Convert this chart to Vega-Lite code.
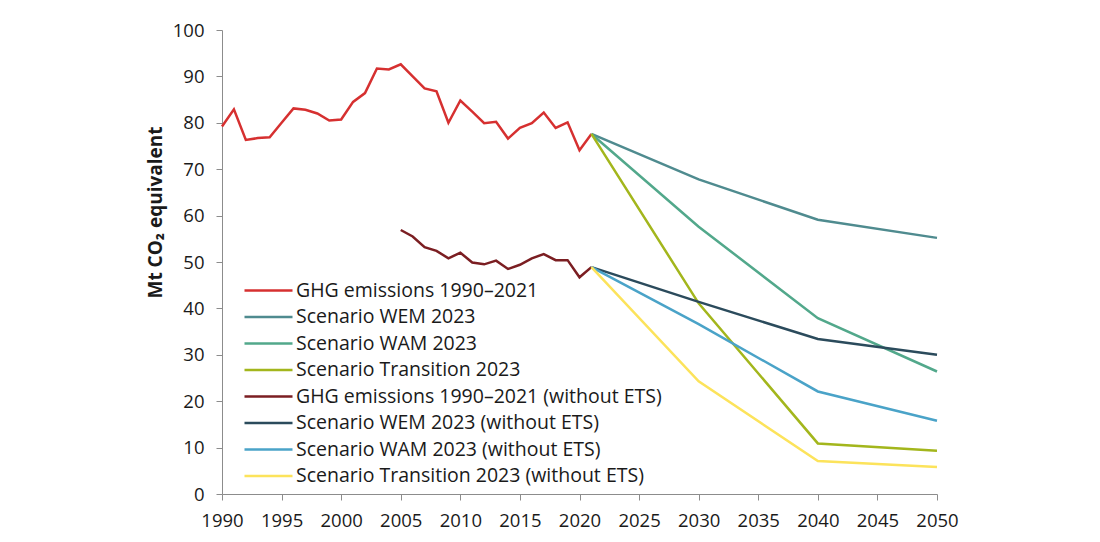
{
  "$schema": "https://vega.github.io/schema/vega-lite/v6.json",
  "width": 715,
  "height": 464,
  "autosize": {"type": "none"},
  "padding": {"left": 222, "top": 30, "right": 163, "bottom": 48},
  "background": "white",
  "config": {
    "view": {"stroke": null},
    "font": "Open Sans",
    "axis": {
      "labelFont": "Open Sans",
      "labelFontSize": 18.5,
      "labelColor": "#1a1a1a",
      "domainColor": "#8c8c8c",
      "tickColor": "#8c8c8c",
      "tickSize": 6,
      "grid": false,
      "titleFont": "Open Sans",
      "titleColor": "#1a1a1a"
    },
    "legend": {
      "labelFont": "Open Sans",
      "labelFontSize": 19.5,
      "labelColor": "#1a1a1a"
    }
  },
  "data": {
    "values": [
      {"series": "GHG emissions 1990–2021", "year": 1990, "value": 79.2},
      {"series": "GHG emissions 1990–2021", "year": 1991, "value": 82.9},
      {"series": "GHG emissions 1990–2021", "year": 1992, "value": 76.3},
      {"series": "GHG emissions 1990–2021", "year": 1993, "value": 76.7},
      {"series": "GHG emissions 1990–2021", "year": 1994, "value": 76.9},
      {"series": "GHG emissions 1990–2021", "year": 1995, "value": 80.0},
      {"series": "GHG emissions 1990–2021", "year": 1996, "value": 83.1},
      {"series": "GHG emissions 1990–2021", "year": 1997, "value": 82.8},
      {"series": "GHG emissions 1990–2021", "year": 1998, "value": 82.0},
      {"series": "GHG emissions 1990–2021", "year": 1999, "value": 80.5},
      {"series": "GHG emissions 1990–2021", "year": 2000, "value": 80.7},
      {"series": "GHG emissions 1990–2021", "year": 2001, "value": 84.5},
      {"series": "GHG emissions 1990–2021", "year": 2002, "value": 86.4},
      {"series": "GHG emissions 1990–2021", "year": 2003, "value": 91.7},
      {"series": "GHG emissions 1990–2021", "year": 2004, "value": 91.5},
      {"series": "GHG emissions 1990–2021", "year": 2005, "value": 92.6},
      {"series": "GHG emissions 1990–2021", "year": 2006, "value": 90.0},
      {"series": "GHG emissions 1990–2021", "year": 2007, "value": 87.4},
      {"series": "GHG emissions 1990–2021", "year": 2008, "value": 86.8},
      {"series": "GHG emissions 1990–2021", "year": 2009, "value": 80.0},
      {"series": "GHG emissions 1990–2021", "year": 2010, "value": 84.8},
      {"series": "GHG emissions 1990–2021", "year": 2011, "value": 82.4},
      {"series": "GHG emissions 1990–2021", "year": 2012, "value": 79.9},
      {"series": "GHG emissions 1990–2021", "year": 2013, "value": 80.2},
      {"series": "GHG emissions 1990–2021", "year": 2014, "value": 76.6},
      {"series": "GHG emissions 1990–2021", "year": 2015, "value": 78.9},
      {"series": "GHG emissions 1990–2021", "year": 2016, "value": 79.9},
      {"series": "GHG emissions 1990–2021", "year": 2017, "value": 82.2},
      {"series": "GHG emissions 1990–2021", "year": 2018, "value": 78.9},
      {"series": "GHG emissions 1990–2021", "year": 2019, "value": 80.1},
      {"series": "GHG emissions 1990–2021", "year": 2020, "value": 74.1},
      {"series": "GHG emissions 1990–2021", "year": 2021, "value": 77.6},

      {"series": "Scenario WEM 2023", "year": 2021, "value": 77.6},
      {"series": "Scenario WEM 2023", "year": 2030, "value": 67.8},
      {"series": "Scenario WEM 2023", "year": 2040, "value": 59.1},
      {"series": "Scenario WEM 2023", "year": 2050, "value": 55.2},

      {"series": "Scenario WAM 2023", "year": 2021, "value": 77.6},
      {"series": "Scenario WAM 2023", "year": 2030, "value": 57.6},
      {"series": "Scenario WAM 2023", "year": 2040, "value": 37.9},
      {"series": "Scenario WAM 2023", "year": 2050, "value": 26.4},

      {"series": "Scenario Transition 2023", "year": 2021, "value": 77.6},
      {"series": "Scenario Transition 2023", "year": 2030, "value": 41.1},
      {"series": "Scenario Transition 2023", "year": 2040, "value": 10.9},
      {"series": "Scenario Transition 2023", "year": 2050, "value": 9.3},

      {"series": "GHG emissions 1990–2021 (without ETS)", "year": 2005, "value": 56.9},
      {"series": "GHG emissions 1990–2021 (without ETS)", "year": 2006, "value": 55.5},
      {"series": "GHG emissions 1990–2021 (without ETS)", "year": 2007, "value": 53.2},
      {"series": "GHG emissions 1990–2021 (without ETS)", "year": 2008, "value": 52.4},
      {"series": "GHG emissions 1990–2021 (without ETS)", "year": 2009, "value": 50.8},
      {"series": "GHG emissions 1990–2021 (without ETS)", "year": 2010, "value": 52.0},
      {"series": "GHG emissions 1990–2021 (without ETS)", "year": 2011, "value": 49.9},
      {"series": "GHG emissions 1990–2021 (without ETS)", "year": 2012, "value": 49.5},
      {"series": "GHG emissions 1990–2021 (without ETS)", "year": 2013, "value": 50.3},
      {"series": "GHG emissions 1990–2021 (without ETS)", "year": 2014, "value": 48.5},
      {"series": "GHG emissions 1990–2021 (without ETS)", "year": 2015, "value": 49.4},
      {"series": "GHG emissions 1990–2021 (without ETS)", "year": 2016, "value": 50.8},
      {"series": "GHG emissions 1990–2021 (without ETS)", "year": 2017, "value": 51.7},
      {"series": "GHG emissions 1990–2021 (without ETS)", "year": 2018, "value": 50.4},
      {"series": "GHG emissions 1990–2021 (without ETS)", "year": 2019, "value": 50.4},
      {"series": "GHG emissions 1990–2021 (without ETS)", "year": 2020, "value": 46.7},
      {"series": "GHG emissions 1990–2021 (without ETS)", "year": 2021, "value": 48.9},

      {"series": "Scenario WEM 2023 (without ETS)", "year": 2021, "value": 48.9},
      {"series": "Scenario WEM 2023 (without ETS)", "year": 2030, "value": 41.4},
      {"series": "Scenario WEM 2023 (without ETS)", "year": 2040, "value": 33.4},
      {"series": "Scenario WEM 2023 (without ETS)", "year": 2050, "value": 30.0},

      {"series": "Scenario WAM 2023 (without ETS)", "year": 2021, "value": 48.9},
      {"series": "Scenario WAM 2023 (without ETS)", "year": 2030, "value": 36.6},
      {"series": "Scenario WAM 2023 (without ETS)", "year": 2040, "value": 22.1},
      {"series": "Scenario WAM 2023 (without ETS)", "year": 2050, "value": 15.8},

      {"series": "Scenario Transition 2023 (without ETS)", "year": 2021, "value": 48.9},
      {"series": "Scenario Transition 2023 (without ETS)", "year": 2030, "value": 24.3},
      {"series": "Scenario Transition 2023 (without ETS)", "year": 2040, "value": 7.1},
      {"series": "Scenario Transition 2023 (without ETS)", "year": 2050, "value": 5.8}
    ]
  },
  "mark": {"type": "line", "strokeWidth": 2.5, "strokeJoin": "miter"},
  "encoding": {
    "x": {
      "field": "year",
      "type": "quantitative",
      "scale": {"domain": [1990, 2050], "nice": false, "zero": false},
      "axis": {"title": null, "values": [1990, 1995, 2000, 2005, 2010, 2015, 2020, 2025, 2030, 2035, 2040, 2045, 2050], "format": "d", "labelPadding": 11, "labelFlush": false}
    },
    "y": {
      "field": "value",
      "type": "quantitative",
      "scale": {"domain": [0, 100], "nice": false},
      "axis": {
        "title": "Mt CO₂ equivalent",
        "titleFontSize": 19,
        "titleFontWeight": "bold",
        "titleX": -57,
        "titleY": 182,
        "titleAlign": "center",
        "values": [0, 10, 20, 30, 40, 50, 60, 70, 80, 90, 100],
        "labelPadding": 12
      }
    },
    "color": {
      "field": "series",
      "type": "nominal",
      "scale": {
        "domain": [
          "GHG emissions 1990–2021",
          "Scenario WEM 2023",
          "Scenario WAM 2023",
          "Scenario Transition 2023",
          "GHG emissions 1990–2021 (without ETS)",
          "Scenario WEM 2023 (without ETS)",
          "Scenario WAM 2023 (without ETS)",
          "Scenario Transition 2023 (without ETS)"
        ],
        "range": ["#d63030", "#4f8b8f", "#52a88b", "#a3b61c", "#7b1e22", "#2b4b5c", "#4aa3c8", "#fce35b"]
      },
      "legend": {
        "title": null,
        "orient": "none",
        "legendX": 33,
        "legendY": 247,
        "symbolType": "M-2,0H2",
        "symbolSize": 576,
        "symbolStrokeWidth": 2.5,
        "labelOffset": 14,
        "rowPadding": 3.5,
        "labelLimit": 600
      }
    }
  }
}
